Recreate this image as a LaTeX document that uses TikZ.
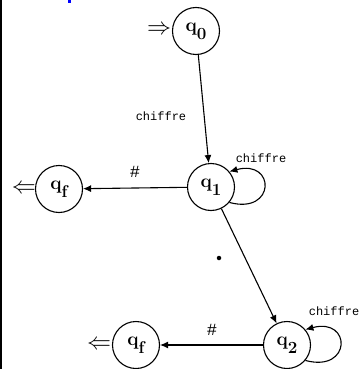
\documentclass[tikz,border=0pt]{standalone}
\usepackage{fontspec}
\newfontfamily\lblfont{Liberation Mono}
\usetikzlibrary{arrows.meta}
\newcommand{\stlab}[1]{{\fontsize{19}{19}\selectfont\bfseries q\raisebox{-0.42em}{\fontsize{17}{17}\selectfont #1}}}
\tikzset{
  state/.style={circle,draw,line width=1.1pt,minimum size=47pt,inner sep=0pt},
  edge/.style={line width=1.1pt,-{Latex[length=8pt,width=7pt]}},
  lbl/.style={font=\lblfont\fontsize{12}{12}\selectfont,inner sep=0pt},
  dbl/.style={inner sep=0pt,font=\fontsize{10}{10}\selectfont}
}
\begin{document}
\begin{tikzpicture}[x=1pt,y=-1pt]
\useasboundingbox (0,0) rectangle (360,369);
\fill[white] (0,0) rectangle (360,369);
\draw[line width=1.6pt] (0.8,0) -- (0.8,369);
\fill[blue] (68,0) rectangle (71,3.5);

\node[state] (q0) at (196,31) {\stlab{0}};
\node[state] (q1) at (211,187) {\stlab{1}};
\node[state] (qf1) at (59,189) {\stlab{f}};
\node[state] (q2) at (287,345) {\stlab{2}};
\node[state] (qf2) at (136,345) {\stlab{f}};

\node[dbl] (i0) at (159,30) {\scalebox{2.4}[2.4]{$\Rightarrow$}};
\node[dbl] (o1) at (24,189) {\scalebox{2.4}[2.4]{$\Leftarrow$}};
\node[dbl] (o2) at (99,345) {\scalebox{2.4}[2.4]{$\Leftarrow$}};

\draw[edge] (q0) -- (q1);
\node[lbl] (l01) at (161,116) {chiffre};
\draw[edge] (q1) -- (qf1);
\node[lbl] (l1f) at (135,172) {\fontsize{17}{17}\selectfont\#};
\draw[edge] (q1) -- (q2);
\node[circle,fill=black,inner sep=0pt,minimum size=4.5pt] (l12) at (219,258) {};
\draw[edge] (q2) -- (qf2);
\node[lbl] (l2f) at (212,330) {\fontsize{17}{17}\selectfont\#};

\draw[edge] (q1.-40) .. controls +(15:48) and +(-15:48) .. (q1.40);
\node[lbl] (ll1) at (261,158) {chiffre};
\draw[edge] (q2.-40) .. controls +(15:48) and +(-15:48) .. (q2.40);
\node[lbl] (ll2) at (334,311) {chiffre};
\end{tikzpicture}
\end{document}
